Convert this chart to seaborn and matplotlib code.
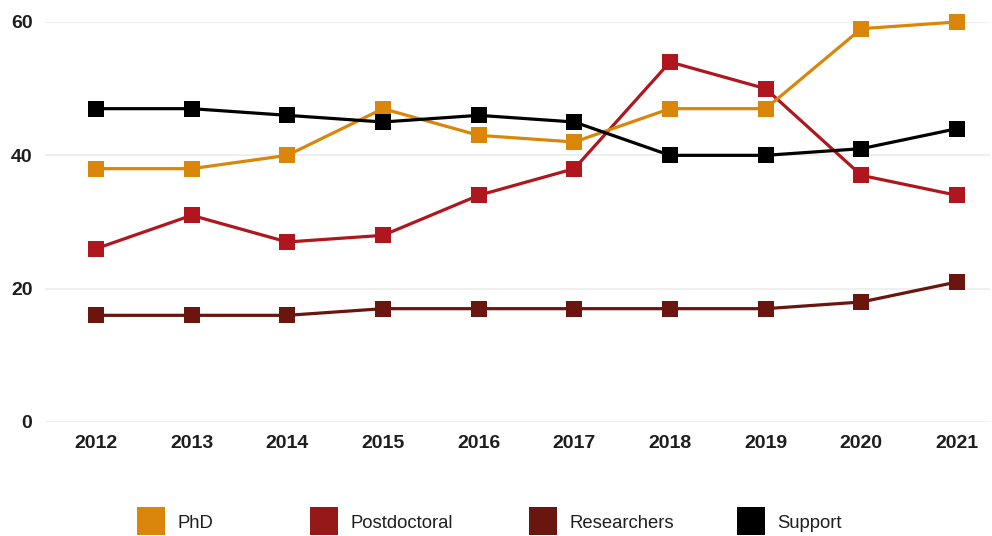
import matplotlib
matplotlib.use("Agg")
import matplotlib.pyplot as plt
from matplotlib.lines import Line2D
import pandas as pd
import seaborn as sns

# Staff counts per year by category
years = [2012, 2013, 2014, 2015, 2016, 2017, 2018, 2019, 2020, 2021]
phd = [38, 38, 40, 47, 43, 42, 47, 47, 59, 60]
postdoctoral = [26, 31, 27, 28, 34, 38, 54, 50, 37, 34]
researchers = [16, 16, 16, 17, 17, 17, 17, 17, 18, 21]
support = [47, 47, 46, 45, 46, 45, 40, 40, 41, 44]

series_names = ["PhD", "Postdoctoral", "Researchers", "Support"]
y_ticks = [0, 20, 40, 60]

colors = {
    "PhD": "#D9860A",
    "Postdoctoral": "#B0161D",
    "Researchers": "#6B150F",
    "Support": "#000000",
}
legend_colors = {
    "PhD": "#D9860A",
    "Postdoctoral": "#961818",
    "Researchers": "#6A150E",
    "Support": "#000000",
}

df = pd.DataFrame({
    "year": years * 4,
    "value": phd + postdoctoral + researchers + support,
    "series": sum([[n] * len(years) for n in series_names], []),
})

sns.set_theme(style="white")
plt.rcParams["font.family"] = ["Liberation Sans", "DejaVu Sans"]

fig = plt.figure(figsize=(9.92, 5.36), dpi=100)
ax = fig.add_axes([45 / 992, (536 - 422) / 536, 945 / 992, 400 / 536])

# drawing order: lower layers first
draw_order = ["Researchers", "Postdoctoral", "PhD", "Support"]
for i, name in enumerate(draw_order):
    sub = df[df["series"] == name]
    sns.lineplot(
        data=sub, x="year", y="value", ax=ax,
        color=colors[name], linewidth=2.3,
        marker="s", markersize=11, markeredgewidth=0,
        clip_on=False, zorder=3 + i, legend=False,
    )

ax.set_xlim(2011.467, 2021.345)
ax.set_ylim(0, 60)
ax.set_xticks(years)
ax.set_xticklabels([str(y) for y in years])
ax.set_yticks(y_ticks)
ax.set_yticklabels([str(t) for t in y_ticks])
ax.set_xlabel("")
ax.set_ylabel("")

ax.grid(axis="y", color="#efefef", linewidth=1.5, zorder=0)
ax.grid(axis="x", visible=False)
for s in ax.spines.values():
    s.set_visible(False)

ax.tick_params(axis="both", length=0, labelsize=14, labelcolor="#1e1e1e")
ax.tick_params(axis="x", pad=9)
ax.tick_params(axis="y", pad=9)
for lbl in ax.get_xticklabels() + ax.get_yticklabels():
    lbl.set_fontweight("bold")

# one legend entry per slot along the bottom
slot_left = [137, 310, 529, 737]
for name, x0 in zip(series_names, slot_left):
    h = Line2D([], [], linestyle="none", marker="s", markersize=20,
               markerfacecolor=legend_colors[name], markeredgewidth=0,
               label=name)
    leg = fig.legend(
        handles=[h], loc="center left",
        bbox_to_anchor=(x0 / 992, 0.0235),
        frameon=False, fontsize=13.3, handlelength=1.5,
        handletextpad=0.7, borderpad=0, borderaxespad=0,
        labelcolor="#1e1e1e",
    )

fig.savefig("out.png", dpi=100)
